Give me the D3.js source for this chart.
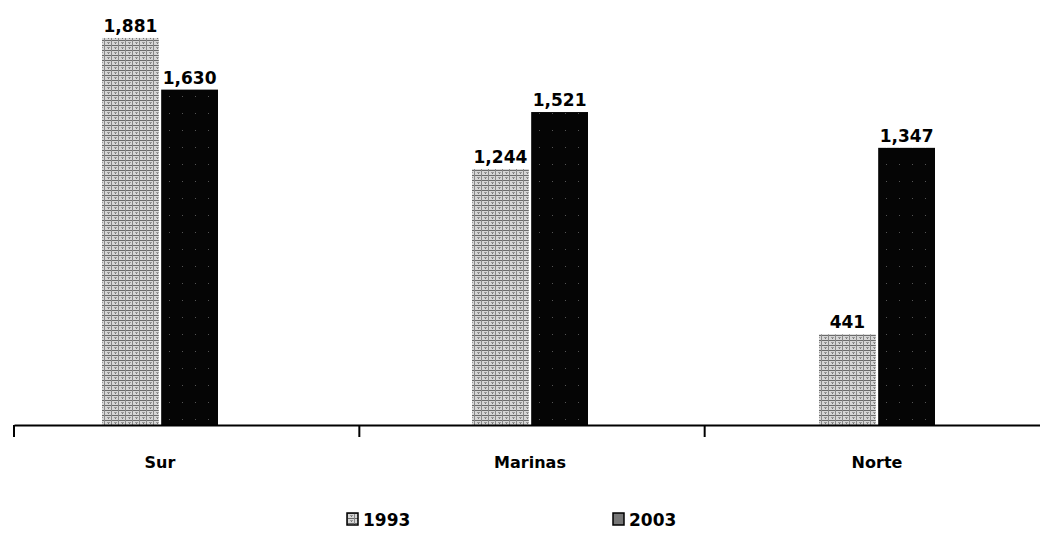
<!DOCTYPE html>
<html>
<head>
<meta charset="utf-8">
<script src="https://cdn.jsdelivr.net/npm/d3@7"></script>
<style>
  body { margin: 0; background: #fff; }
  svg { display: block; }
  text { font-family: "DejaVu Sans", Verdana, sans-serif; fill: #000; font-weight: bold; }
</style>
</head>
<body>
<div id="chart"></div>
<script>
// data
var regions = ["Sur", "Marinas", "Norte"];
var years = ["1993", "2003"];
var values1993 = [1881, 1244, 441];
var values2003 = [1630, 1521, 1347];

var width = 1040, height = 534;

var svg = d3.select("#chart").append("svg")
    .attr("width", width)
    .attr("height", height);

// halftone-ish fill for the 1993 bars
var defs = svg.append("defs");
var pat = defs.append("pattern")
    .attr("id", "light")
    .attr("patternUnits", "userSpaceOnUse")
    .attr("width", 7).attr("height", 5);
pat.append("rect").attr("width", 7).attr("height", 5).attr("fill", "#d6d6d6");
pat.append("rect").attr("x", 0).attr("y", 0).attr("width", 7).attr("height", 1).attr("fill", "#6a6a6a");
pat.append("rect").attr("x", 0).attr("y", 0).attr("width", 1).attr("height", 5).attr("fill", "#888");
pat.append("rect").attr("x", 3).attr("y", 2).attr("width", 3).attr("height", 1).attr("fill", "#999");
pat.append("rect").attr("x", 4).attr("y", 3).attr("width", 1).attr("height", 1).attr("fill", "#777");

var pat2 = defs.append("pattern")
    .attr("id", "dark")
    .attr("patternUnits", "userSpaceOnUse")
    .attr("width", 13).attr("height", 17);
pat2.append("rect").attr("width", 13).attr("height", 17).attr("fill", "#050505");
pat2.append("rect").attr("x", 9).attr("y", 11).attr("width", 1).attr("height", 1).attr("fill", "#555");

var fills = ["url(#light)", "url(#dark)"];

// scales
var axisY = 425;
var y = d3.scaleLinear().domain([0, 2000]).range([axisY, axisY - 2000 / 4.86]);

var xBand = d3.scaleBand().domain(regions).range([14, 1050]);
// group centres are not evenly spaced in the original
var xCenter = d3.scaleLinear().domain([0, 1, 2]).range([160, 530, 877]);
var xSub = d3.scaleBand().domain(years).range([-58, 58]).paddingInner(0.04);

var rows = regions.map(function(r, i) {
  return { region: r, idx: i, vals: [values1993[i], values2003[i]] };
});

var groups = svg.selectAll("g.region")
  .data(rows)
  .enter().append("g")
    .attr("class", "region")
    .attr("transform", function(d) { return "translate(" + xCenter(d.idx) + ",0)"; });

groups.selectAll("rect")
  .data(function(d) { return d.vals.map(function(v, j) { return { year: years[j], v: v, j: j }; }); })
  .enter().append("rect")
    .attr("x", function(d) { return xSub(d.year); })
    .attr("y", function(d) { return y(d.v); })
    .attr("width", xSub.bandwidth())
    .attr("height", function(d) { return axisY - y(d.v); })
    .attr("fill", function(d) { return fills[d.j]; });

groups.selectAll("text.val")
  .data(function(d) { return d.vals.map(function(v, j) { return { year: years[j], v: v }; }); })
  .enter().append("text")
    .attr("class", "val")
    .attr("x", function(d) { return xSub(d.year) + xSub.bandwidth() / 2; })
    .attr("y", function(d) { return y(d.v) - 6; })
    .attr("text-anchor", "middle")
    .style("font-size", "17px")
    .text(function(d) { return d3.format(",")(d.v); });

// category axis
var axis = d3.axisBottom(xBand).tickSize(0).tickFormat("");
svg.append("g")
  .attr("transform", "translate(0," + axisY + ")")
  .call(axis)
  .call(function(g) {
    g.select(".domain").attr("stroke", "#000").attr("stroke-width", 2);
  });

// tick marks at band edges
svg.selectAll("line.tick")
  .data(regions)
  .enter().append("line")
    .attr("class", "tick")
    .attr("x1", function(d) { return xBand(d); })
    .attr("x2", function(d) { return xBand(d); })
    .attr("y1", axisY)
    .attr("y2", axisY + 12)
    .attr("stroke", "#000")
    .attr("stroke-width", 2);

svg.selectAll("text.cat")
  .data(rows)
  .enter().append("text")
    .attr("class", "cat")
    .attr("x", function(d) { return xCenter(d.idx); })
    .attr("y", 468)
    .attr("text-anchor", "middle")
    .style("font-size", "16px")
    .text(function(d) { return d.region; });

// legend
var legendX = d3.scalePoint().domain(years).range([347, 613]);
var leg = svg.selectAll("g.legend")
  .data(years)
  .enter().append("g")
    .attr("class", "legend")
    .attr("transform", function(d) { return "translate(" + legendX(d) + ",513)"; });
leg.append("rect")
  .attr("width", 11).attr("height", 12)
  .attr("fill", function(d, i) { return i === 0 ? "url(#light)" : "#777"; })
  .attr("stroke", "#000").attr("stroke-width", 1.5);
leg.append("text")
  .attr("x", 16).attr("y", 13)
  .style("font-size", "17px")
  .text(function(d) { return d; });
</script>
</body>
</html>
